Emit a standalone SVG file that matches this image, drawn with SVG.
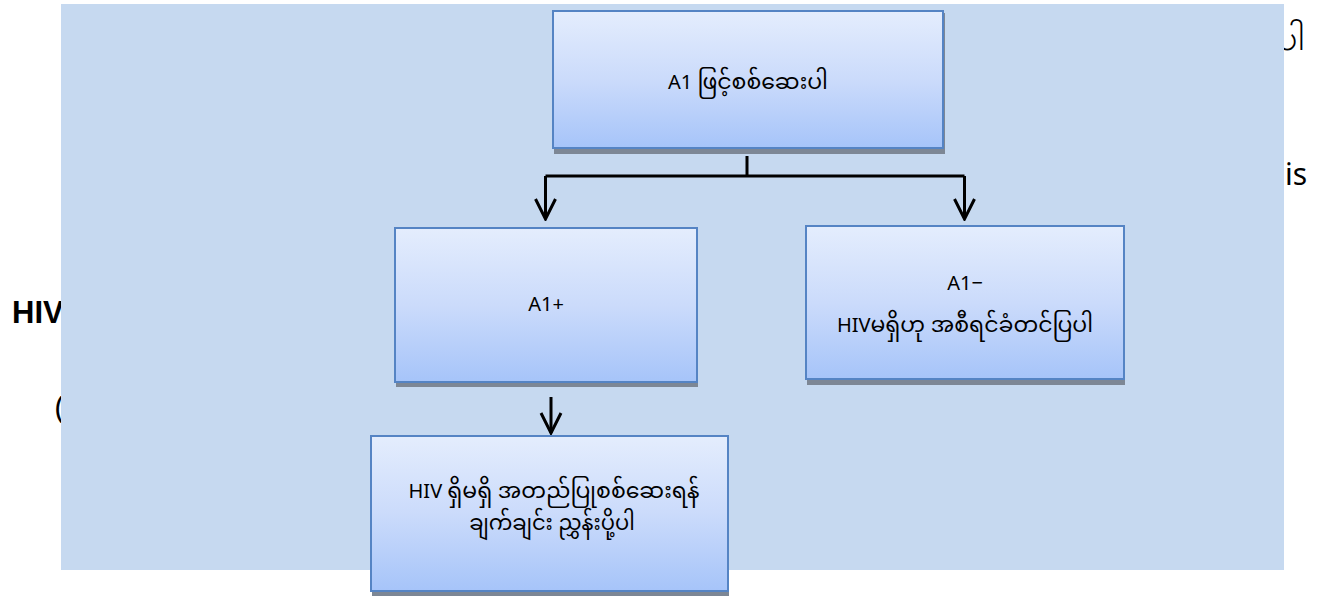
<svg xmlns="http://www.w3.org/2000/svg" width="1319" height="596" viewBox="0 0 1319 596">
  <defs>
    <linearGradient id="boxGrad" x1="0" y1="0" x2="0" y2="1">
      <stop offset="0" stop-color="#e4edfd"/>
      <stop offset="0.5" stop-color="#cbdbfb"/>
      <stop offset="1" stop-color="#a6c4f9"/>
    </linearGradient>
    <marker id="arrow" viewBox="-22 -12 24 24" refX="0" refY="0" markerWidth="24" markerHeight="24" markerUnits="userSpaceOnUse" orient="auto">
      <path d="M-20,-10 L0,0 L-20,10" fill="none" stroke="#000" stroke-width="3"/>
    </marker>
  </defs>
  <style>
    .bg-text { font-family: "Noto Sans", "Open Sans", sans-serif; font-size: 30px; fill: #000; }
    .box { fill: url(#boxGrad); stroke: #5584c4; stroke-width: 2; }
    .shadow { fill: #7d8795; }
    .label { font-family: "Noto Sans", "Noto Sans Myanmar", "Padauk", "Myanmar Text", sans-serif; font-size: 20px; fill: #000; text-anchor: middle; }
    .my { font-size: 22px; }
    .conn { fill: none; stroke: #000; stroke-width: 3; }
  </style>
  <rect x="0" y="0" width="1319" height="596" fill="#ffffff"/>
  <!-- background text partly hidden -->
  <text class="bg-text" x="1305" y="50" text-anchor="end" style="font-size:36px">ပါ</text>
  <text class="bg-text" x="1285" y="185">is</text>
  <text class="bg-text" x="12" y="323" style="font-weight:bold;font-size:31px;font-family:'Liberation Sans',Arial,sans-serif">HIV</text>
  <text class="bg-text" x="55" y="418">(</text>
  <rect x="61" y="4" width="1223" height="566" fill="#c6d9f0"/>

  <g id="connectors">
    <path class="conn" d="M747,156 V176"/>
    <path class="conn" d="M545.5,176 H964.5"/>
    <path class="conn" d="M545.5,176 V219" marker-end="url(#arrow)"/>
    <path class="conn" d="M964.5,176 V219" marker-end="url(#arrow)"/>
    <path class="conn" d="M551,397 V433" marker-end="url(#arrow)"/>
  </g>

  <g id="node-a1">
    <rect class="shadow" x="554" y="13" width="391" height="141"/>
    <rect class="box" x="553" y="11" width="390" height="137"/>
    <text class="label" x="748" y="89">A1 <tspan class="my">ဖြင့်စစ်ဆေးပါ</tspan></text>
  </g>
  <g id="node-a1-pos">
    <rect class="shadow" x="396" y="230" width="302" height="157"/>
    <rect class="box" x="395" y="228" width="302" height="154"/>
    <text class="label" x="546" y="311">A1+</text>
  </g>
  <g id="node-a1-neg">
    <rect class="shadow" x="807" y="228" width="318" height="157"/>
    <rect class="box" x="806" y="226" width="318" height="153"/>
    <text class="label" x="965" y="290">A1−</text>
    <text class="label" x="965" y="332">HIV<tspan class="my">မရှိဟု အစီရင်ခံတင်ပြပါ</tspan></text>
  </g>
  <g id="node-refer">
    <rect class="shadow" x="372" y="438" width="357" height="158"/>
    <rect class="box" x="371" y="436" width="357" height="155"/>
    <text class="label" x="554" y="498">HIV <tspan class="my">ရှိမရှိ အတည်ပြုစစ်ဆေးရန်</tspan></text>
    <text class="label" x="552" y="530"><tspan class="my" style="font-size:21px">ချက်ချင်း ညွှန်းပို့ပါ</tspan></text>
  </g>
</svg>
